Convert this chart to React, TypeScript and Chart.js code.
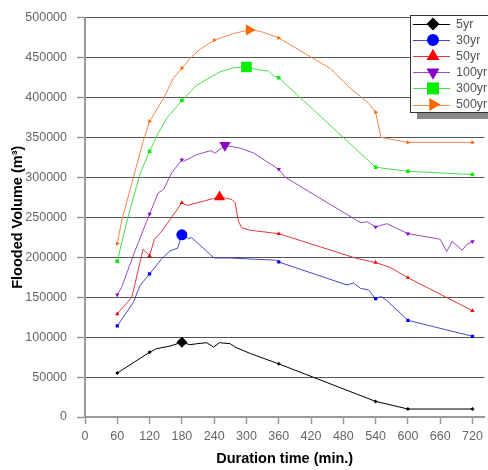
import React, { useEffect, useRef } from 'react';
import { Chart, registerables } from 'chart.js';

Chart.register(...registerables);

// ---- data ----
const seriesNames = ['5yr', '30yr', '50yr', '100yr', '300yr', '500yr'];
const xTickValues = [0, 60, 120, 180, 240, 300, 360, 420, 480, 540, 600, 660, 720];
const yTickValues = [0, 50000, 100000, 150000, 200000, 250000, 300000, 350000, 400000, 450000, 500000];

const t5 = [60, 120, 133, 158, 180, 195, 208, 226, 239, 250, 270, 279, 307, 360, 540, 600, 720];
const v5 = [55000, 81000, 85500, 88800, 93500, 90500, 91700, 93000, 87500, 93000, 91700, 87500, 79500, 66500, 19500, 10000, 10000];

const t30 = [60, 90, 102, 120, 143, 158, 172, 180, 192, 198, 240, 267, 354, 360, 487, 499, 512, 527, 540, 550, 561, 600, 720];
const v30 = [114000, 143600, 164400, 179000, 198400, 208000, 211300, 228000, 223300, 224600, 199000, 199000, 196300, 194000, 165200, 167700, 161000, 159000, 148000, 150700, 145700, 121000, 101000];

const t50 = [60, 87, 108, 120, 129, 143, 180, 190, 250, 273, 279, 285, 291, 307, 360, 505, 540, 567, 600, 720];
const v50 = [129000, 149800, 210000, 201700, 222500, 232800, 268000, 264800, 275500, 272300, 268100, 245300, 237000, 233700, 229500, 198400, 193400, 187200, 174300, 133000];

const t100 = [60, 68, 93, 120, 136, 146, 161, 180, 183, 208, 233, 242, 260, 288, 313, 360, 372, 512, 524, 540, 561, 600, 660, 672, 682, 701, 710, 720];
const v100 = [153000, 162300, 208000, 254000, 280600, 284800, 305500, 322000, 320000, 328400, 333300, 330400, 340000, 336600, 330400, 310000, 300100, 243200, 244400, 237800, 242000, 229500, 222500, 207100, 219500, 208800, 216300, 219500];

const t300 = [60, 78, 102, 120, 136, 152, 180, 208, 251, 276, 300, 319, 341, 350, 360, 540, 600, 720];
const v300 = [195000, 245300, 303800, 332500, 355300, 374000, 396000, 415500, 432100, 437100, 438000, 435000, 432900, 427100, 424600, 312600, 307500, 303500];

const t500 = [60, 68, 108, 120, 146, 164, 180, 195, 214, 240, 276, 305, 326, 360, 419, 456, 468, 481, 493, 512, 527, 540, 550, 600, 720];
const v500 = [217000, 245300, 344900, 370000, 398800, 423800, 436500, 448700, 460400, 471600, 479900, 484500, 482700, 474400, 450800, 436200, 427900, 419600, 411300, 401000, 392600, 381400, 349900, 343700, 343700];

const markedTimes = [60, 120, 180, 360, 540, 600, 720];
const markedTimes500 = [60, 120, 180, 240, 360, 540, 600, 720];
const peakTimes = [180, 180, 250, 260, 300, 305];

// ---- styles ----
const lineColors = ['#000000', '#4848c8', '#e03a3a', '#9a48c4', '#48e048', '#f08848'];
const markColors = ['#000000', '#0000ff', '#ff0000', '#8a00c8', '#00ee00', '#ff6600'];
const bigStyles = ['rectRot', 'circle', 'triangle', 'triangle', 'rect', 'triangle'];
const smallStyles = ['rectRot', 'rect', 'triangle', 'triangle', 'rect', 'triangle'];
const rotations = [0, 0, 0, 180, 0, 90];
const bigRadius = [5.5, 5.5, 6.5, 6.5, 7.5, 6.5];
const smallRadius = [2, 2.3, 2.5, 2.5, 2.5, 2.5];

const FONT = "Arial, 'Liberation Sans', sans-serif";

function drawMarker(ctx: CanvasRenderingContext2D, style: string, rot: number, x: number, y: number, r: number) {
  ctx.save();
  ctx.translate(x, y);
  ctx.rotate((rot * Math.PI) / 180);
  ctx.beginPath();
  if (style === 'circle') {
    ctx.arc(0, 0, r, 0, Math.PI * 2);
  } else if (style === 'rect') {
    const s = r * Math.SQRT1_2;
    ctx.rect(-s, -s, 2 * s, 2 * s);
  } else if (style === 'rectRot') {
    ctx.moveTo(0, -r);
    ctx.lineTo(r, 0);
    ctx.lineTo(0, r);
    ctx.lineTo(-r, 0);
    ctx.closePath();
  } else {
    for (let k = 0; k < 3; k++) {
      const a = (k * 2 * Math.PI) / 3;
      const px = Math.sin(a) * r;
      const py = -Math.cos(a) * r;
      if (k === 0) ctx.moveTo(px, py);
      else ctx.lineTo(px, py);
    }
    ctx.closePath();
  }
  ctx.fill();
  ctx.restore();
}

const legendPlugin = {
  id: 'boxLegend',
  afterDraw(chart: any) {
    const ctx: CanvasRenderingContext2D = chart.ctx;
    const bx = 410, by = 15, bw = 90, bh = 97;
    ctx.save();
    ctx.fillStyle = '#888888';
    ctx.fillRect(bx + 7, by + 6, bw, bh + 1);
    ctx.fillStyle = '#ffffff';
    ctx.fillRect(bx, by, bw, bh);
    ctx.strokeStyle = '#333333';
    ctx.lineWidth = 1;
    ctx.strokeRect(bx + 0.5, by + 0.5, bw, bh);
    const legendR = [6.5, 6, 7.5, 7.5, 8.5, 7.5];
    seriesNames.forEach((name, i) => {
      const y = 24 + i * 16.1;
      ctx.strokeStyle = lineColors[i];
      ctx.lineWidth = 1;
      ctx.beginPath();
      ctx.moveTo(413, Math.round(y) + 0.5);
      ctx.lineTo(450, Math.round(y) + 0.5);
      ctx.stroke();
      ctx.fillStyle = markColors[i];
      drawMarker(ctx, bigStyles[i], rotations[i], 433, y, legendR[i]);
      ctx.fillStyle = '#555555';
      ctx.font = `12.5px ${FONT}`;
      ctx.textAlign = 'left';
      ctx.textBaseline = 'middle';
      ctx.fillText(name, 456, y + 0.5);
    });
    ctx.restore();
  },
};

const allT = [t5, t30, t50, t100, t300, t500];
const allV = [v5, v30, v50, v100, v300, v500];

export default function App() {
  const ref = useRef<HTMLCanvasElement>(null);
  useEffect(() => {
    document.body.style.margin = '0';
    const canvas = ref.current;
    if (!canvas) return;
    const datasets = seriesNames.map((name, i) => {
      const ts = allT[i];
      const vs = allV[i];
      const marks = i === 5 ? markedTimes500 : markedTimes;
      const peak = peakTimes[i];
      const radiusFn = (c: any) => {
        const t = ts[c.dataIndex];
        if (t === peak) return bigRadius[i];
        return marks.includes(t) ? smallRadius[i] : 0;
      };
      return {
        label: name,
        data: ts.map((t, k) => ({ x: t, y: vs[k] })),
        borderColor: lineColors[i],
        backgroundColor: markColors[i],
        borderWidth: 1,
        pointBackgroundColor: markColors[i],
        pointBorderColor: markColors[i],
        pointBorderWidth: 0,
        pointStyle: (c: any) => (ts[c.dataIndex] === peak ? bigStyles[i] : smallStyles[i]),
        pointRotation: rotations[i],
        pointRadius: radiusFn,
        pointHoverRadius: radiusFn,
        tension: 0,
        fill: false,
      };
    });
    const chart = new Chart(canvas, {
      type: 'line',
      data: { datasets },
      plugins: [legendPlugin],
      options: {
        animation: false,
        responsive: false,
        maintainAspectRatio: false,
        layout: { padding: { top: 15, right: 3, left: 0, bottom: 0 } },
        plugins: { legend: { display: false }, tooltip: { enabled: false } },
        scales: {
          x: {
            type: 'linear',
            min: 0,
            max: 742,
            afterBuildTicks: (s: any) => {
              s.ticks = xTickValues.map((v) => ({ value: v }));
            },
            afterFit: (s: any) => {
              s.height = 53;
            },
            ticks: {
              color: '#666666',
              font: { family: FONT, size: 12.5 },
              padding: 5,
              maxRotation: 0,
              autoSkip: false,
            },
            grid: { drawOnChartArea: false, drawTicks: true, tickLength: 7, tickColor: '#999999', tickWidth: 1.5 },
            border: { display: true, color: '#999999', width: 2 },
            title: {
              display: true,
              text: 'Duration time (min.)',
              color: '#000000',
              font: { family: FONT, size: 14.5, weight: 'bold' },
              padding: { top: 0, bottom: 2 },
            },
          },
          y: {
            type: 'linear',
            min: 0,
            max: 500000,
            afterBuildTicks: (s: any) => {
              s.ticks = yTickValues.map((v) => ({ value: v }));
            },
            afterFit: (s: any) => {
              s.width = 85;
            },
            ticks: {
              color: '#666666',
              font: { family: FONT, size: 12.5 },
              padding: 10,
              autoSkip: false,
              callback: (v: any) => String(v),
            },
            grid: { color: '#555555', lineWidth: 1, drawTicks: true, tickLength: 8, tickColor: '#999999', tickWidth: 1.5 },
            border: { display: true, color: '#999999', width: 2 },
            title: {
              display: true,
              text: 'Flooded Volume (m³)',
              color: '#000000',
              font: { family: FONT, size: 14.5, weight: 'bold' },
              padding: { top: 9, bottom: 0 },
            },
          },
        },
      },
    } as any);
    return () => chart.destroy();
  }, []);
  return (
    <div style={{ width: 488, height: 470, background: '#ffffff' }}>
      <canvas ref={ref} width={488} height={470} style={{ display: 'block' }} />
    </div>
  );
}
